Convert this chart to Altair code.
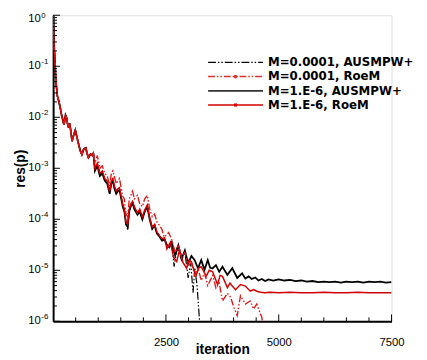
import altair as alt
import pandas as pd

# ---------------- data ----------------
# shared start of all four histories: iteration, log10(res(p))
early_it = [0, 15, 36, 58, 94, 130, 166, 188, 215, 239, 260, 275, 295, 311, 340, 365, 384,
            420, 456, 492, 530, 565, 600, 637, 680, 724, 750, 782, 830, 870, 891]
early_lg = [0.0, -0.5, -0.81, -1.26, -1.58, -1.70, -1.85, -1.96, -2.05, -2.15, -2.05, -1.96,
            -2.0, -2.09, -2.2, -2.12, -2.22, -2.47, -2.35, -2.25, -2.4, -2.53, -2.65, -2.73,
            -2.62, -2.6, -2.7, -2.79, -2.72, -2.75, -2.70]

# M=1.E-6, AUSMPW+
b6_it = [927, 980, 1036, 1090, 1144, 1200, 1253, 1290, 1325, 1360, 1398, 1434, 1470, 1510, 1543,
         1580, 1615, 1652, 1688, 1720, 1760, 1800, 1869, 1920, 1978, 2030, 2087, 2140, 2196, 2250,
         2300, 2341, 2413, 2470, 2522, 2575, 2630, 2703, 2775, 2848, 2920, 2993, 3065, 3138, 3210,
         3283, 3355, 3427, 3480, 3536, 3609, 3681, 3754, 3862, 3971, 4080, 4188, 4260, 4333, 4400,
         4478, 4550, 4623, 4700, 4768, 4877, 5000, 5125, 5250, 5375, 5500, 5625, 5750, 5875, 6000,
         6125, 6250, 6375, 6500, 6625, 6750, 6875, 7000, 7125, 7250, 7375, 7500]
b6_lg = [-3.05, -2.95, -3.15, -3.1, -3.24, -3.3, -3.5, -3.3, -3.25, -3.4, -3.5, -3.45, -3.42, -3.6,
         -3.75, -3.85, -4.1, -4.15, -3.84, -3.75, -3.68, -3.8, -3.91, -3.85, -4.0, -3.85, -3.75,
         -4.0, -4.19, -4.12, -4.28, -4.32, -4.42, -4.4, -4.51, -4.55, -4.45, -4.71, -4.51, -4.77,
         -4.61, -4.87, -4.72, -4.8, -4.96, -4.8, -4.99, -4.8, -4.95, -4.96, -4.9, -5.03, -4.93,
         -5.09, -4.96, -5.15, -5.06, -5.16, -5.12, -5.17, -5.14, -5.2, -5.17, -5.21, -5.18, -5.2,
         -5.18, -5.2, -5.19, -5.21, -5.2, -5.22, -5.21, -5.23, -5.22, -5.23, -5.22, -5.24, -5.22,
         -5.23, -5.22, -5.24, -5.22, -5.23, -5.22, -5.24, -5.23]

# M=1.E-6, RoeM
r6_it = [927, 980, 1036, 1090, 1144, 1200, 1253, 1290, 1325, 1360, 1398, 1434, 1470, 1510, 1543,
         1580, 1615, 1652, 1688, 1720, 1760, 1800, 1869, 1920, 1978, 2030, 2087, 2140, 2196, 2250,
         2300, 2341, 2413, 2470, 2522, 2600, 2670, 2739, 2800, 2880, 2957, 3010, 3065, 3120, 3174,
         3230, 3283, 3391, 3460, 3536, 3645, 3700, 3754, 3862, 3920, 3971, 4043, 4152, 4261, 4369,
         4440, 4514, 4600, 4696, 4800, 5000, 5250, 5500, 5750, 6000, 6250, 6500, 6750, 7000, 7250,
         7500]
r6_lg = [-3.0, -2.9, -3.1, -3.05, -3.2, -3.25, -3.45, -3.25, -3.2, -3.35, -3.45, -3.4, -3.38, -3.55,
         -3.7, -3.8, -4.05, -4.1, -3.8, -3.7, -3.65, -3.75, -3.88, -3.8, -3.95, -3.82, -3.72, -3.97,
         -4.15, -4.1, -4.25, -4.3, -4.38, -4.36, -4.58, -4.45, -4.75, -4.83, -4.6, -4.85, -4.96,
         -4.8, -4.83, -5.0, -5.09, -4.95, -4.93, -5.12, -5.0, -5.03, -5.28, -5.1, -5.12, -5.34,
         -5.25, -5.31, -5.38, -5.28, -5.31, -5.41, -5.38, -5.41, -5.43, -5.44, -5.43, -5.44, -5.43,
         -5.44, -5.44, -5.43, -5.44, -5.44, -5.43, -5.44, -5.44, -5.44]

# M=0.0001, RoeM
r4_it = [927, 980, 1036, 1090, 1144, 1200, 1253, 1290, 1325, 1398, 1434, 1470, 1543, 1580, 1615,
         1652, 1688, 1760, 1800, 1869, 1920, 1978, 2030, 2087, 2140, 2196, 2250, 2300, 2341, 2413,
         2460, 2522, 2558, 2630, 2703, 2775, 2848, 2920, 2993, 3065, 3138, 3210, 3283, 3355, 3427,
         3536, 3609, 3681, 3754, 3862, 3935, 4007, 4080, 4152, 4261, 4369, 4442, 4514, 4623, 4680]
r4_lg = [-2.9, -2.75, -3.0, -2.95, -3.1, -3.15, -3.35, -3.1, -3.05, -3.3, -3.25, -3.2, -3.55, -3.6,
         -3.9, -3.95, -3.6, -3.45, -3.6, -3.53, -3.7, -3.75, -3.6, -3.53, -3.8, -3.95, -3.9, -4.05,
         -4.1, -4.2, -4.35, -4.3, -4.26, -4.4, -4.65, -4.5, -4.75, -4.65, -4.9, -4.85, -5.1, -4.95,
         -5.2, -5.05, -5.3, -5.1, -5.35, -5.25, -5.6, -5.45, -5.53, -5.73, -5.89, -5.5, -5.66, -5.6,
         -5.76, -5.66, -5.92, -6.2]

# M=0.0001, AUSMPW+
b4_it = [927, 980, 1036, 1090, 1144, 1200, 1253, 1290, 1325, 1360, 1398, 1434, 1470, 1510, 1543,
         1580, 1615, 1652, 1688, 1720, 1760, 1800, 1869, 1920, 1978, 2030, 2087, 2140, 2196, 2250,
         2300, 2341, 2413, 2470, 2522, 2575, 2630, 2681, 2750, 2848, 2920, 2993, 3050, 3101, 3140,
         3190, 3246, 3270]
b4_lg = [-3.02, -2.92, -3.12, -3.08, -3.22, -3.28, -3.48, -3.28, -3.22, -3.38, -3.48, -3.43, -3.4,
         -3.58, -3.72, -3.82, -4.08, -4.2, -3.82, -3.73, -3.66, -3.78, -3.9, -3.83, -3.98, -3.84,
         -3.74, -3.98, -4.17, -4.1, -4.27, -4.3, -4.4, -4.38, -4.5, -4.53, -4.45, -4.93, -4.55,
         -4.8, -4.65, -5.15, -4.85, -5.44, -4.95, -5.3, -6.0, -6.3]

legend_labels = ["M=0.0001, AUSMPW+", "M=0.0001, RoeM", "M=1.E-6, AUSMPW+", "M=1.E-6, RoeM"]

x_major = [2500, 5000, 7500]
x_minor = [500, 1000, 1500, 2000, 3000, 3500, 4000, 4500, 5500, 6000, 6500, 7000]
y_exps = [0, -1, -2, -3, -4, -5, -6]
y_minor_mult = [2, 3, 4, 5, 6, 7, 8, 9]

# ---------------- build tables ----------------
def series(it, lg):
    its = early_it + it
    lgs = early_lg + lg
    return pd.DataFrame({"it": its, "res": [10.0 ** v for v in lgs]})

df_b4 = series(b4_it, b4_lg)
df_r4 = series(r4_it, r4_lg)
df_b6 = series(b6_it, b6_lg)
df_r6 = series(r6_it, r6_lg)

W, H = 345, 312
FONT = "Liberation Sans"
LFONT = "DejaVu Sans"
RED = "#d40000"

xscale = alt.Scale(domain=[0, 7500], nice=False, zero=False)
yscale = alt.Scale(type="log", domain=[1e-6, 1], nice=False)

x_axis = alt.Axis(values=x_major, format="d", ticks=False, grid=False, domainColor="black",
                  domainWidth=2, labelFont=FONT, labelFontSize=11.5, labelColor="black",
                  labelBaseline="alphabetic", labelPadding=25, labelFlush=False,
                  title="iteration", titleFont=FONT, titleFontSize=14, titleFontWeight="bold",
                  titleColor="black", titleBaseline="alphabetic", titleY=33)
y_axis = alt.Axis(labels=False, ticks=False, grid=False, domainColor="black", domainWidth=2,
                  title="res(p)", titleFont=FONT, titleFontSize=14, titleFontWeight="bold",
                  titleColor="black", titleAngle=270, titleAlign="center",
                  titleBaseline="alphabetic", titleX=-29, titleY=156)

X = alt.X("it:Q", scale=xscale, axis=x_axis)
Y = alt.Y("res:Q", scale=yscale, axis=y_axis)

l_b6 = alt.Chart(df_b6).mark_line(color="black", strokeWidth=1.8, clip=True).encode(x=X, y=Y)
l_b4 = alt.Chart(df_b4).mark_line(color="black", strokeWidth=1.2, clip=True,
                                  strokeDash=[8, 2, 1.5, 2, 1.5, 2]).encode(x=X, y=Y)
l_r6 = alt.Chart(df_r6).mark_line(color=RED, strokeWidth=1.5, clip=True).encode(x=X, y=Y)
l_r4 = alt.Chart(df_r4).mark_line(color="#dd1a1a", strokeWidth=1.4, clip=True,
                                  strokeDash=[7, 2, 1.5, 2, 1.5, 2]).encode(x=X, y=Y)

# ticks drawn inward
xt_major = alt.Chart(pd.DataFrame({"it": x_major})).mark_rule(color="black", strokeWidth=1).encode(
    x=X, y=alt.value(H), y2=alt.value(H - 7))
xt_minor = alt.Chart(pd.DataFrame({"it": x_minor})).mark_rule(color="black", strokeWidth=1).encode(
    x=X, y=alt.value(H), y2=alt.value(H - 4))

y_major_vals = [10.0 ** e for e in y_exps]
y_minor_vals = [m * 10.0 ** e for e in y_exps[1:] for m in y_minor_mult]
yt_major = alt.Chart(pd.DataFrame({"res": y_major_vals})).mark_rule(color="black", strokeWidth=1).encode(
    y=Y, x=alt.value(0), x2=alt.value(7))
yt_minor = alt.Chart(pd.DataFrame({"res": y_minor_vals})).mark_rule(color="black", strokeWidth=1).encode(
    y=Y, x=alt.value(0), x2=alt.value(4))

ylab_df = pd.DataFrame({"res": y_major_vals, "base": ["10"] * len(y_exps),
                        "exp": [str(e) for e in y_exps]})
top_df = ylab_df.iloc[[0]]
rest_df = ylab_df.iloc[1:]

ylab_base = alt.Chart(rest_df).mark_text(font=FONT, fontSize=11.5, color="black", align="right",
                                         baseline="middle").encode(
    y=Y, x=alt.value(-12.5), text="base:N")
ylab_exp = alt.Chart(rest_df).mark_text(font=FONT, fontSize=8, color="black", align="left",
                                        baseline="alphabetic", dy=-2.5).encode(
    y=Y, x=alt.value(-12), text="exp:N")
# top label nudged down slightly so that its exponent stays on the page
ytop_base = alt.Chart(top_df).mark_text(font=FONT, fontSize=11.5, color="black", align="right",
                                        baseline="middle", dy=4).encode(
    y=Y, x=alt.value(-12.5), text="base:N")
ytop_exp = alt.Chart(top_df).mark_text(font=FONT, fontSize=8, color="black", align="left",
                                       baseline="alphabetic", dy=3).encode(
    y=Y, x=alt.value(-12), text="exp:N")

# legend
ROWS = [48, 62.5, 77, 91.5]
LX0, LX1, TX = 158, 214, 219
MX = 186
leg_df = pd.DataFrame({"label": legend_labels})

def leg_rule(i, **kw):
    return alt.Chart(leg_df.iloc[[i]]).mark_rule(**kw).encode(
        x=alt.value(LX0), x2=alt.value(LX1), y=alt.value(ROWS[i]))

leg_lines = [
    leg_rule(0, color="black", strokeWidth=1.2, strokeDash=[8, 2, 1.5, 2, 1.5, 2]),
    leg_rule(1, color="#e03030", strokeWidth=1.5, strokeDash=[7, 2, 1.5, 2, 1.5, 2]),
    leg_rule(2, color="#333333", strokeWidth=1.8),
    leg_rule(3, color=RED, strokeWidth=1.5),
]
leg_marks = [
    alt.Chart(leg_df.iloc[[1]]).mark_point(shape="circle", filled=True, color="#e03030", size=14, opacity=1).encode(
        x=alt.value(MX), y=alt.value(ROWS[1])),
    alt.Chart(leg_df.iloc[[3]]).mark_point(shape="square", filled=True, color=RED, size=10, opacity=1).encode(
        x=alt.value(MX), y=alt.value(ROWS[3])),
]
leg_text = [
    alt.Chart(leg_df.iloc[[i]]).mark_text(font=LFONT, fontSize=12, fontWeight="bold", color="black",
                                          align="left", baseline="middle").encode(
        x=alt.value(TX), y=alt.value(ROWS[i]), text="label:N")
    for i in range(4)
]

chart = alt.layer(
    l_b6, l_b4, l_r6, l_r4,
    xt_major, xt_minor, yt_major, yt_minor,
    ylab_base, ylab_exp, ytop_base, ytop_exp,
    *leg_lines, *leg_marks, *leg_text,
).properties(
    width=W, height=H,
    autosize=alt.AutoSizeParams(type="none"),
    padding={"left": 46, "top": 4, "right": 28, "bottom": 34},
).configure_view(stroke=None).configure(background="white")

chart.save("out.html", embed_options={"renderer": "svg", "actions": False})
